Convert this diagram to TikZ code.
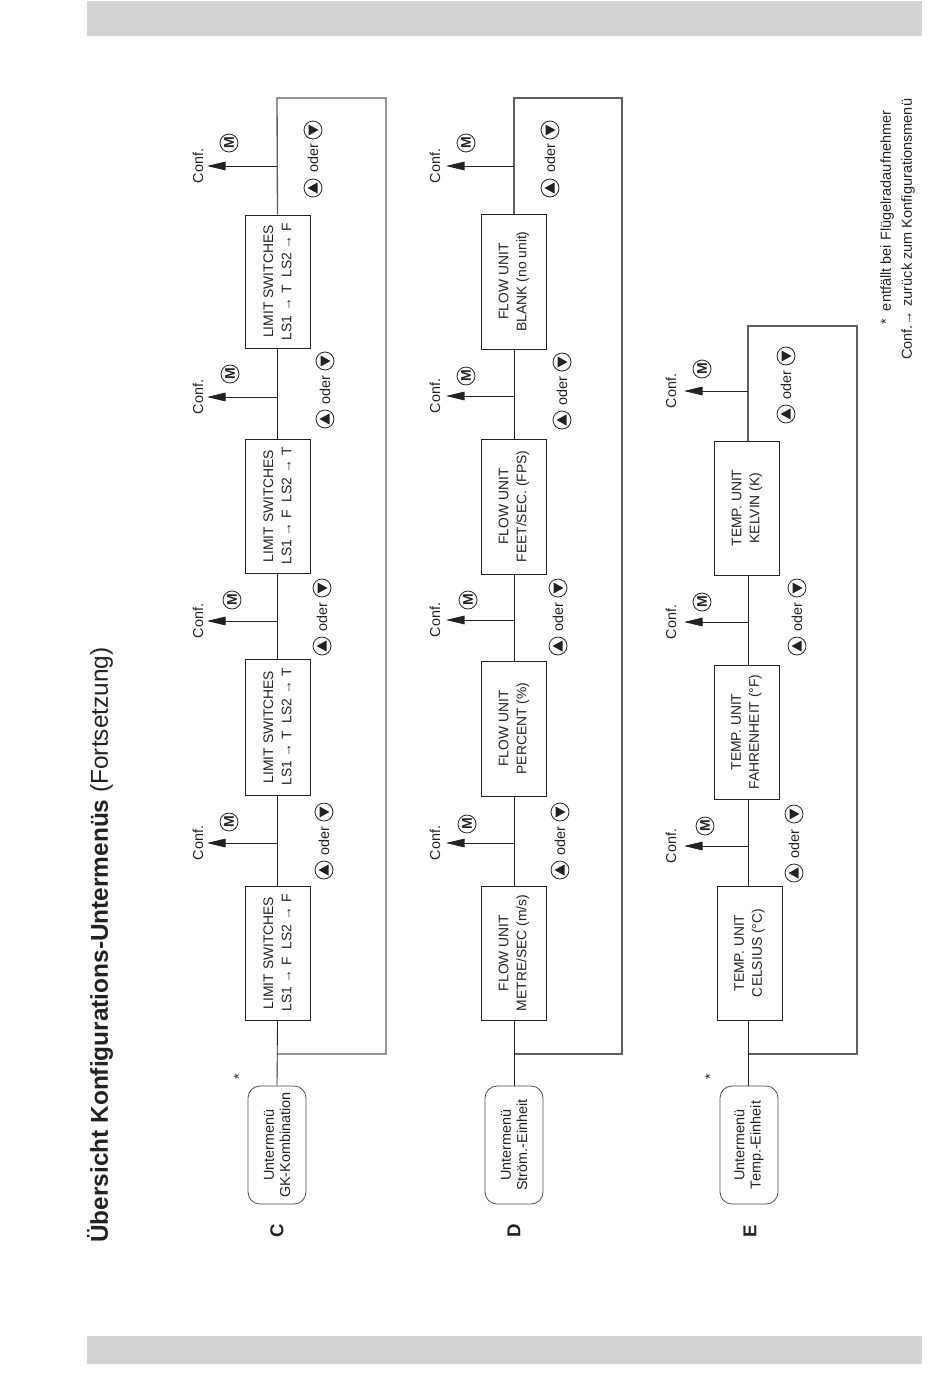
\documentclass[tikz,border=0pt]{standalone}
\usepackage{fontspec}
\setmainfont{Liberation Sans}
\usetikzlibrary{arrows.meta,calc}
\definecolor{ink}{HTML}{222222}
\definecolor{bar}{HTML}{D2D3D5}
\definecolor{loopc}{HTML}{5F5F5F}
\def\px{0.75pt}
\tikzset{
  conn/.style={draw=ink,line width=0.65pt},
  frameline/.style={draw=loopc,line width=1pt},
  tip/.style={-{Triangle[length=14pt,width=6.5pt]}},
  menubox/.style={draw=ink,line width=0.7pt,fill=white,rotate=90,align=center,inner sep=0pt,
     text=ink,font=\fontsize{10.4}{13.6}\selectfont,minimum height=65*\px},
  entrybox/.style={draw=ink!80,line width=0.6pt,fill=white,rotate=90,rounded corners=9pt,align=center,inner sep=0pt,
     text=ink,font=\fontsize{10.8}{12.2}\selectfont,minimum width=118*\px,minimum height=58*\px},
  rottext/.style={rotate=90,inner sep=0pt,text=ink,font=\fontsize{10.8}{12}\selectfont},
  keyc/.style={draw=ink,line width=0.6pt,circle,inner sep=0pt,minimum size=18*\px,fill=white},
  keym/.style={keyc,rotate=90,text=ink,font=\fontsize{10.5}{11}\selectfont\bfseries},
  letter/.style={rotate=90,inner sep=0pt,text=ink,font=\fontsize{14}{16}\selectfont\bfseries},
  note/.style={rotate=90,anchor=west,inner sep=0pt,text=ink,font=\fontsize{10.9}{12}\selectfont},
}
\newcommand\tapoff[7]{% name, x chain, y, x tip, x Conf, x M, y M
  \coordinate (#1j) at (#2,#3);
  \coordinate (#1t) at (#4,#3);
  \draw[conn,tip] (#1j) -- (#1t);
  \node[rottext] (#1c) at (#5,#3) {Conf.};
  \node[keym] (#1m) at (#6,#7) {M};
}
\newcommand\updown[5]{% name, x, y up key, y oder, y down key
  \node[keyc] (#1u) at (#2,#3) {};
  \fill[ink,shift={(#2,#3)}] (-5.5,0) -- (4.5,-5.5) -- (4.5,5.5) -- cycle;
  \node[rottext] (#1o) at (#2,#4) {oder};
  \node[keyc] (#1d) at (#2,#5) {};
  \fill[ink,shift={(#2,#5)}] (5.5,0) -- (-4.5,-5.5) -- (-4.5,5.5) -- cycle;
}
\begin{document}
\begin{tikzpicture}[x=0.75pt,y=-0.75pt]
\useasboundingbox (0,0) rectangle (950,1378);
\fill[bar] (87,1) rectangle (922,36);
\fill[bar] (87,1336) rectangle (922,1364);
\node[rotate=90,anchor=west,inner sep=0pt,text=ink,font=\fontsize{18.3}{20}\selectfont] (title) at (100,1243)
  {\textbf{Übersicht Konfigurations-Untermenüs} (Fortsetzung)};

% ---------- C
\node[letter] (lc) at (277,1231) {C};
\node[rottext] (sc) at (239,1077) {*};
\node[entrybox] (ec) at (277,1145) {Untermenü\\GK-Kombination};
\node[menubox,minimum width=134*\px] (c1) at (277.5,953) {LIMIT SWITCHES\\LS1 → F\ \ LS2 → F};
\node[menubox,minimum width=136*\px] (c2) at (277.5,727) {LIMIT SWITCHES\\LS1 → T\ \ LS2 → T};
\node[menubox,minimum width=134*\px] (c3) at (277.5,506) {LIMIT SWITCHES\\LS1 → F\ \ LS2 → T};
\node[menubox,minimum width=133*\px] (c4) at (277.5,281.5) {LIMIT SWITCHES\\LS1 → T\ \ LS2 → F};
\coordinate (cf1) at (277,98); \coordinate (cf2) at (386,98);
\coordinate (cf3) at (386,1054); \coordinate (cf4) at (277,1054);
\draw[frameline] (c4.east) -- (cf1) -- (cf2) -- (cf3) -- (cf4);
\draw[conn] (ec.east) -- (c1.west);
\draw[conn] (c1.east) -- (c2.west);
\draw[conn] (c2.east) -- (c3.west);
\draw[conn] (c3.east) -- (c4.west);
\tapoff{ct1}{277}{843}{207}{198}{229}{822}
\tapoff{ct2}{277}{621}{207}{198}{232}{600}
\tapoff{ct3}{277}{397}{207}{198}{230}{374}
\tapoff{ct4}{277}{166}{207}{198}{229}{143}
\updown{cu1}{324}{870}{841}{812}
\updown{cu2}{322}{646}{617}{588}
\updown{cu3}{325}{419}{390}{361}
\updown{cu4}{313}{188}{158}{130}

% ---------- D
\node[letter] (ld) at (514,1231) {D};
\node[entrybox] (ed) at (514,1145) {Untermenü\\Ström.-Einheit};
\node[menubox,minimum width=134*\px] (d1) at (514,953) {FLOW UNIT\\METRE/SEC (m/s)};
\node[menubox,minimum width=135*\px] (d2) at (514,728.5) {FLOW UNIT\\PERCENT (\%)};
\node[menubox,minimum width=135*\px] (d3) at (514,506.5) {FLOW UNIT\\FEET/SEC. (FPS)};
\node[menubox,minimum width=135*\px] (d4) at (514,281.5) {FLOW UNIT\\BLANK (no unit)};
\coordinate (df1) at (514,98); \coordinate (df2) at (622,98);
\coordinate (df3) at (622,1054); \coordinate (df4) at (514,1054);
\draw[frameline] (d4.east) -- (df1) -- (df2) -- (df3) -- (df4);
\draw[conn] (ed.east) -- (d1.west);
\draw[conn] (d1.east) -- (d2.west);
\draw[conn] (d2.east) -- (d3.west);
\draw[conn] (d3.east) -- (d4.west);
\tapoff{dt1}{514}{843}{446}{435}{467}{824}
\tapoff{dt2}{514}{620}{446}{435}{468}{600}
\tapoff{dt3}{514}{396}{446}{435}{466}{376}
\tapoff{dt4}{514}{166}{446}{435}{466}{143}
\updown{du1}{560}{870}{841}{812}
\updown{du2}{558}{646}{617}{588}
\updown{du3}{562}{420}{391}{362}
\updown{du4}{550}{188}{158}{130}

% ---------- E
\node[letter] (le) at (750,1231) {E};
\node[rottext] (se) at (710,1077) {*};
\coordinate (ex) at (748,0);
\node[entrybox] (ee) at (749,1145) {Untermenü\\Temp.-Einheit};
\node[menubox,minimum width=134*\px] (e1) at (749.5,953) {TEMP. UNIT\\CELSIUS (°C)};
\node[menubox,minimum width=134*\px] (e2) at (746.5,732) {TEMP. UNIT\\FAHRENHEIT (°F)};
\node[menubox,minimum width=134*\px] (e3) at (747,508) {TEMP. UNIT\\KELVIN (K)};
\coordinate (ef1) at (748,326); \coordinate (ef2) at (857,326);
\coordinate (ef3) at (857,1054); \coordinate (ef4) at (748,1054);
\draw[frameline] (e3.east -| ex) -- (ef1) -- (ef2) -- (ef3) -- (ef4);
\draw[conn] (ee.east -| ex) -- (e1.west -| ex);
\draw[conn] (e1.east -| ex) -- (e2.west -| ex);
\draw[conn] (e2.east -| ex) -- (e3.west -| ex);
\tapoff{et1}{748}{846}{684}{671}{705}{826}
\tapoff{et2}{748}{622}{684}{671}{702}{602}
\tapoff{et3}{748}{391}{684}{671}{702}{369}
\updown{eu1}{794}{873}{844}{814}
\updown{eu2}{797}{646}{617}{588}
\updown{eu3}{786}{414}{385}{356}

% ---------- notes
\node[note] (n1) at (887,325) {*\ \ entfällt bei Flügelradaufnehmer};
\node[note] (n2) at (908,360) {Conf.→ zurück zum Konfigurationsmenü};
\end{tikzpicture}
\end{document}
